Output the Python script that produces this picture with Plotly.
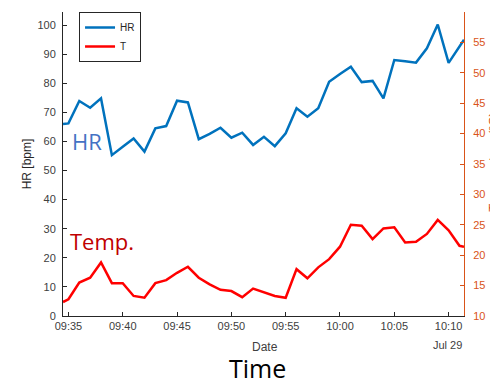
import plotly.graph_objects as go

# ---- data ----
times = ["2023-07-29 09:34:30", "2023-07-29 09:35", "2023-07-29 09:36", "2023-07-29 09:37",
         "2023-07-29 09:38", "2023-07-29 09:39", "2023-07-29 09:40", "2023-07-29 09:41",
         "2023-07-29 09:42", "2023-07-29 09:43", "2023-07-29 09:44", "2023-07-29 09:45",
         "2023-07-29 09:46", "2023-07-29 09:47", "2023-07-29 09:48", "2023-07-29 09:49",
         "2023-07-29 09:50", "2023-07-29 09:51", "2023-07-29 09:52", "2023-07-29 09:53",
         "2023-07-29 09:54", "2023-07-29 09:55", "2023-07-29 09:56", "2023-07-29 09:57",
         "2023-07-29 09:58", "2023-07-29 09:59", "2023-07-29 10:00", "2023-07-29 10:01",
         "2023-07-29 10:02", "2023-07-29 10:03", "2023-07-29 10:04", "2023-07-29 10:05",
         "2023-07-29 10:06", "2023-07-29 10:07", "2023-07-29 10:08", "2023-07-29 10:09",
         "2023-07-29 10:10", "2023-07-29 10:11", "2023-07-29 10:11:25"]

hr = [66.0, 66.2, 73.9, 71.6, 74.8, 55.3, 58.2, 61.0, 56.5, 64.5, 65.3, 74.0,
      73.4, 60.8, 62.6, 64.7, 61.3, 63.0, 58.8, 61.6, 58.4, 62.8, 71.4, 68.5,
      71.4, 80.5, 83.2, 85.7, 80.4, 80.8, 74.8, 88.0, 87.6, 87.1, 92.0, 100.2,
      87.0, 92.8, 95.0]

temp = [12.3, 12.75, 15.5, 16.3, 18.8, 15.4, 15.4, 13.3, 13.0, 15.4, 15.9, 17.1,
        18.1, 16.3, 15.2, 14.3, 14.1, 13.1, 14.5, 13.85, 13.3, 13.0, 17.7, 16.2,
        18.0, 19.35, 21.4, 25.0, 24.85, 22.65, 24.4, 24.6, 22.1, 22.2, 23.5, 25.8,
        24.1, 21.55, 21.4]

x_range = ["2023-07-29 09:34:30", "2023-07-29 10:11:25"]
hr_ticks = [0, 10, 20, 30, 40, 50, 60, 70, 80, 90, 100]
t_ticks = [10, 15, 20, 25, 30, 35, 40, 45, 50, 55, 60]

BLUE = "#0072BD"
RED = "#FF0000"
ORANGE = "#D95319"
DARK = "#262626"
FONT = "Liberation Sans"

fig = go.Figure()
fig.add_trace(go.Scatter(x=times, y=hr, name="HR", mode="lines",
                         line=dict(color=BLUE, width=2.5), yaxis="y"))
fig.add_trace(go.Scatter(x=times, y=temp, name="T", mode="lines",
                         line=dict(color=RED, width=2.5), yaxis="y2"))

# the page body adds an 8px offset, so the figure is 8px smaller than the window
fig.update_layout(
    width=490, height=376,
    margin=dict(l=55, r=34, t=4, b=68, autoexpand=False),
    paper_bgcolor="white", plot_bgcolor="white",
    font=dict(family=FONT, size=11, color="#404040"),
    showlegend=True,
    legend=dict(x=0.04, y=1.0, xanchor="left", yanchor="top",
                bordercolor=DARK, borderwidth=1, bgcolor="white",
                font=dict(size=10, color=DARK), tracegroupgap=0,
                itemwidth=30),
    xaxis=dict(type="date", range=x_range, tickformat="%H:%M",
               tick0="2023-07-29 09:35", dtick=300000, automargin=False,
               showgrid=False, zeroline=False, showline=True, linecolor=DARK,
               linewidth=1, ticks="inside", ticklen=4, tickcolor=DARK,
               tickfont=dict(size=11, color="#404040")),
    yaxis=dict(range=[0, 104.5], tickvals=hr_ticks, showgrid=False,
               automargin=False,
               zeroline=False, showline=True, linecolor=DARK, linewidth=1,
               ticks="inside", ticklen=4, tickcolor=DARK,
               tickfont=dict(size=11, color="#404040"), ticklabelstandoff=4,
               title=dict(text="HR [bpm]", font=dict(size=12, color=DARK),
                          standoff=3)),
    yaxis2=dict(range=[10, 60], tickvals=t_ticks, overlaying="y", side="right",
                anchor="x", showgrid=False, zeroline=False, showline=True,
                automargin=False,
                linecolor=ORANGE, linewidth=1, ticks="inside", ticklen=4,
                tickcolor=ORANGE, tickfont=dict(size=11, color=ORANGE),
                ticklabelstandoff=6),
)

fig.add_annotation(text="Temperature (ºC)", xref="paper", yref="paper",
                   x=1.098, y=0.507, showarrow=False, textangle=-90,
                   font=dict(family=FONT, size=13, color=ORANGE))
fig.add_annotation(text="HR", xref="paper", yref="paper", x=0.0175, y=0.576,
                   xanchor="left", yanchor="middle", showarrow=False,
                   font=dict(family="Open Sans", size=22, color="#4472C4"))
fig.add_annotation(text="Temp.", xref="paper", yref="paper", x=0.0125, y=0.247,
                   xanchor="left", yanchor="middle", showarrow=False,
                   font=dict(family="Open Sans", size=22, color="#C00000"))
fig.add_annotation(text="Date", xref="paper", yref="paper", x=0.5025, y=-0.102,
                   xanchor="center", yanchor="middle", showarrow=False,
                   font=dict(family=FONT, size=12, color="#404040"))
fig.add_annotation(text="Jul 29", xref="paper", yref="paper", x=1.0, y=-0.095,
                   xanchor="right", yanchor="middle", showarrow=False,
                   font=dict(family=FONT, size=11, color="#404040"))
fig.add_annotation(text="Time", xref="paper", yref="paper", x=0.485, y=-0.17,
                   xanchor="center", yanchor="middle", showarrow=False,
                   font=dict(family="Open Sans", size=25, color="black"))

fig.write_html("out.html")
